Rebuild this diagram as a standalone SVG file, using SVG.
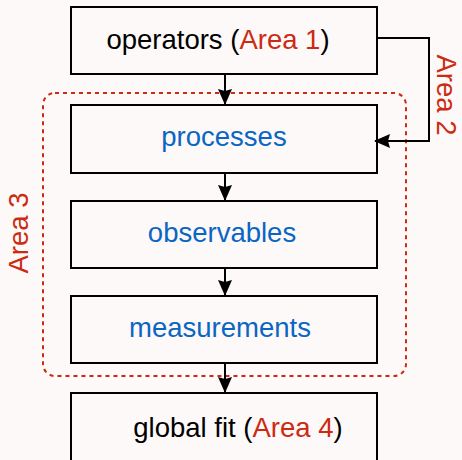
<svg xmlns="http://www.w3.org/2000/svg" width="462" height="460" viewBox="0 0 462 460">
  <style>
    .box { fill: #fdf9f8; stroke: #000; stroke-width: 2; }
    .lbl { font-family: "Liberation Sans", Arial, sans-serif; font-size: 27.5px; text-anchor: middle; fill: #000; }
    .blue { fill: #0a66c2; }
    .red { fill: #cc2a12; }
    .wire { fill: none; stroke: #000; stroke-width: 2; }
    .area { fill: none; stroke: #cc2a12; stroke-width: 2; stroke-dasharray: 4 4; }
  </style>
  <defs>
    <marker id="arrow" viewBox="0 0 16 14" refX="15" refY="7" markerWidth="16" markerHeight="14" markerUnits="userSpaceOnUse" orient="auto">
      <path d="M0,0 L16,7 L0,14 L2,7 Z" fill="#000"/>
    </marker>
  </defs>
  <rect width="462" height="460" fill="#fdf9f8"/>

  <!-- Area 3 boundary -->
  <rect class="area" x="43" y="93" width="363" height="283" rx="12" ry="12"/>
  <text class="lbl red" transform="translate(28,233) rotate(-90)">Area 3</text>

  <g id="operators">
    <rect class="box" x="71" y="7" width="306" height="67"/>
    <text class="lbl" x="218" y="49">operators (<tspan class="red">Area 1</tspan>)</text>
  </g>
  <g id="processes">
    <rect class="box" x="71" y="105" width="306" height="68"/>
    <text class="lbl blue" x="224" y="146">processes</text>
  </g>
  <g id="observables">
    <rect class="box" x="71" y="201" width="306" height="67"/>
    <text class="lbl blue" x="222" y="242">observables</text>
  </g>
  <g id="measurements">
    <rect class="box" x="71" y="296" width="306" height="67"/>
    <text class="lbl blue" x="220" y="337">measurements</text>
  </g>
  <g id="globalfit">
    <rect class="box" x="71" y="393" width="306" height="80"/>
    <text class="lbl" x="238" y="437">global fit (<tspan class="red">Area 4</tspan>)</text>
  </g>

  <g id="connectors">
    <line class="wire" x1="225" y1="74" x2="225" y2="104" marker-end="url(#arrow)"/>
    <line class="wire" x1="225" y1="173" x2="225" y2="200" marker-end="url(#arrow)"/>
    <line class="wire" x1="225" y1="268" x2="225" y2="295" marker-end="url(#arrow)"/>
    <line class="wire" x1="225" y1="363" x2="225" y2="392" marker-end="url(#arrow)"/>
    <polyline class="wire" points="377,38 429,38 429,141 375,141" marker-end="url(#arrow)"/>
    <text class="lbl red" transform="translate(437,95) rotate(90)">Area 2</text>
  </g>
</svg>
